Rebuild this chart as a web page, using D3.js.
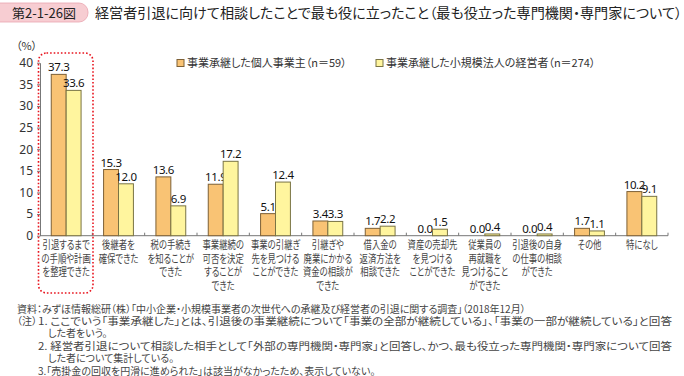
<!DOCTYPE html>
<html>
<head>
<meta charset="utf-8">
<title>第2-1-26図</title>
<script src="https://d3js.org/d3.v7.min.js"></script>
<style>
  body { margin: 0; background: #fff; }
  svg text { font-family: "Noto Sans CJK JP", "Noto Sans", sans-serif; font-feature-settings: "palt"; }
</style>
</head>
<body>
<div id="chart"></div>
<script>

var categories = [
  ["引退するまで", "の手順や計画", "を整理できた"],
  ["後継者を", "確保できた"],
  ["税の手続き", "を知ることが", "できた"],
  ["事業継続の", "可否を決定", "することが", "できた"],
  ["事業の引継ぎ", "先を見つける", "ことができた"],
  ["引継ぎや", "廃業にかかる", "資金の相談が", "できた"],
  ["借入金の", "返済方法を", "相談できた"],
  ["資産の売却先", "を見つける", "ことができた"],
  ["従業員の", "再就職を", "見つけること", "ができた"],
  ["引退後の自身", "の仕事の相談", "ができた"],
  ["その他"],
  ["特になし"]
];
var individual = [37.3, 15.3, 13.6, 11.9, 5.1, 3.4, 1.7, 0.0, 0.0, 0.0, 1.7, 10.2];
var corporate  = [33.6, 12.0, 6.9, 17.2, 12.4, 3.3, 2.2, 1.5, 0.4, 0.4, 1.1, 9.1];
var seriesNames = ["事業承継した個人事業主（n＝59）", "事業承継した小規模法人の経営者（n＝274）"];
var yTicks = [0, 5, 10, 15, 20, 25, 30, 35, 40];

var notes = [
  "資料：みずほ情報総研（株）「中小企業・小規模事業者の次世代への承継及び経営者の引退に関する調査」（2018年12月）",
  "1. ここでいう「事業承継した」とは、引退後の事業継続について「事業の全部が継続している」、「事業の一部が継続している」と回答",
  "した者をいう。",
  "2. 経営者引退について相談した相手として「外部の専門機関・専門家」と回答し、かつ、最も役立った専門機関・専門家について回答",
  "した者について集計している。",
  "3.「売掛金の回収を円滑に進められた」は該当がなかったため、表示していない。"
];

var W = 684, H = 376;
var plotL = 40, plotR = 668, plotT = 62.7, plotB = 235.7;
var fills = ["#f9c374", "#fff59e"];
var strokes = ["#7d6036", "#7a7444"];

var svg = d3.select("#chart").append("svg")
    .attr("width", W)
    .attr("height", H);

// header
svg.append("rect")
    .attr("x", -12).attr("y", 3)
    .attr("width", 100).attr("height", 19)
    .attr("rx", 9)
    .attr("fill", "#f7cdd2")
    .attr("stroke", "#eaa5b0")
    .attr("stroke-width", 0.8);
svg.append("text")
    .attr("x", 44).attr("y", 17.5)
    .attr("text-anchor", "middle")
    .style("font-size", "13px")
    .attr("fill", "#222")
    .text("第2-1-26図");
svg.append("text")
    .attr("x", 95).attr("y", 18)
    .attr("textLength", 587)
    .attr("lengthAdjust", "spacingAndGlyphs")
    .style("font-size", "14px")
    .attr("fill", "#222")
    .text("経営者引退に向けて相談したことで最も役に立ったこと（最も役立った専門機関・専門家について）");

var idx = d3.range(categories.length);
var x = d3.scaleBand()
    .domain(idx)
    .range([plotL, plotR])
    .paddingInner(0.43)
    .paddingOuter(0.215);
var xs = d3.scaleBand()
    .domain([0, 1])
    .range([0, x.bandwidth()]);
var y = d3.scaleLinear()
    .domain([0, 40])
    .range([plotB, plotT]);

// y axis
var yAxis = svg.append("g")
    .attr("transform", "translate(" + plotL + ",0)")
    .call(d3.axisLeft(y).tickValues(yTicks).tickSize(3).tickSizeOuter(0).tickPadding(4));
yAxis.select(".domain").attr("stroke", "#777");
yAxis.selectAll(".tick line").attr("stroke", "#777");
yAxis.selectAll(".tick text")
    .attr("fill", "#333")
    .style("font-size", "12px")
    .style("font-family", "'Noto Sans', sans-serif");

svg.append("text")
    .attr("x", 16).attr("y", 50)
    .style("font-size", "11px")
    .attr("fill", "#333")
    .text("（%）");

// baseline and category ticks
var step = x.step();
svg.append("line")
    .attr("x1", plotL).attr("x2", plotR)
    .attr("y1", plotB).attr("y2", plotB)
    .attr("stroke", "#777");
svg.selectAll(".ctick")
    .data(d3.range(1, categories.length + 1))
    .join("line")
    .attr("x1", function(i) { return plotL + i * step; })
    .attr("x2", function(i) { return plotL + i * step; })
    .attr("y1", plotB).attr("y2", plotB - 3)
    .attr("stroke", "#777");

// bars
var series = [individual, corporate];
series.forEach(function(vals, s) {
    svg.selectAll(".bar" + s)
        .data(vals)
        .join("rect")
        .attr("x", function(d, i) { return x(i) + xs(s); })
        .attr("y", function(d) { return y(d); })
        .attr("width", xs.bandwidth())
        .attr("height", function(d) { return plotB - y(d); })
        .attr("fill", fills[s])
        .attr("stroke", strokes[s])
        .attr("stroke-width", 1);

    svg.selectAll(".lab" + s)
        .data(vals)
        .join("text")
        .attr("x", function(d, i) { return x(i) + xs(s) + xs.bandwidth() / 2; })
        .attr("y", function(d) { return y(d) - 3; })
        .attr("text-anchor", "middle")
        .style("font-size", "11.5px")
        .style("font-family", "'Noto Sans', sans-serif")
        .style("letter-spacing", "-0.4px")
        .attr("fill", "#111")
        .text(function(d) { return d.toFixed(1); });
});

// category labels (squeezed to the band like the narrow reference font)
categories.forEach(function(lines, i) {
    var cx = x(i) + x.bandwidth() / 2;
    lines.forEach(function(l, k) {
        var t = svg.append("text")
            .attr("x", cx)
            .attr("y", 249 + k * 13.6)
            .attr("text-anchor", "middle")
            .style("font-size", "11px")
            .attr("fill", "#444")
            .text(l);
        var w = t.node().getComputedTextLength();
        t.attr("textLength", w * 0.76).attr("lengthAdjust", "spacingAndGlyphs");
    });
});

// highlight box
svg.append("rect")
    .attr("x", 38.5).attr("y", 53)
    .attr("width", 54.5).attr("height", 240)
    .attr("rx", 8)
    .attr("fill", "none")
    .attr("stroke", "#e8141e")
    .attr("stroke-width", 1.6)
    .attr("stroke-dasharray", "1.6,2");

// legend
var legX = [177, 376];
seriesNames.forEach(function(n, s) {
    svg.append("rect")
        .attr("x", legX[s]).attr("y", 59.5)
        .attr("width", 7).attr("height", 7)
        .attr("fill", fills[s])
        .attr("stroke", strokes[s]);
    svg.append("text")
        .attr("x", legX[s] + 10).attr("y", 67)
        .style("font-size", "11px")
        .attr("fill", "#333")
        .text(n);
});

// notes
var noteX = [17, 38, 48, 38, 48, 38];
var noteLen = [null, 634, null, 634, null, null];
notes.forEach(function(n, i) {
    var t = svg.append("text")
        .attr("x", noteX[i])
        .attr("y", 312.5 + i * 12.4)
        .style("font-size", "10px")
        .attr("fill", "#444")
        .text(n);
    if (noteLen[i]) t.attr("textLength", noteLen[i]).attr("lengthAdjust", "spacingAndGlyphs");
});
svg.append("text")
    .attr("x", 17).attr("y", 312.5 + 12.4)
    .attr("textLength", 20).attr("lengthAdjust", "spacingAndGlyphs")
    .style("font-size", "10px")
    .attr("fill", "#444")
    .text("（注）");

</script>
</body>
</html>
